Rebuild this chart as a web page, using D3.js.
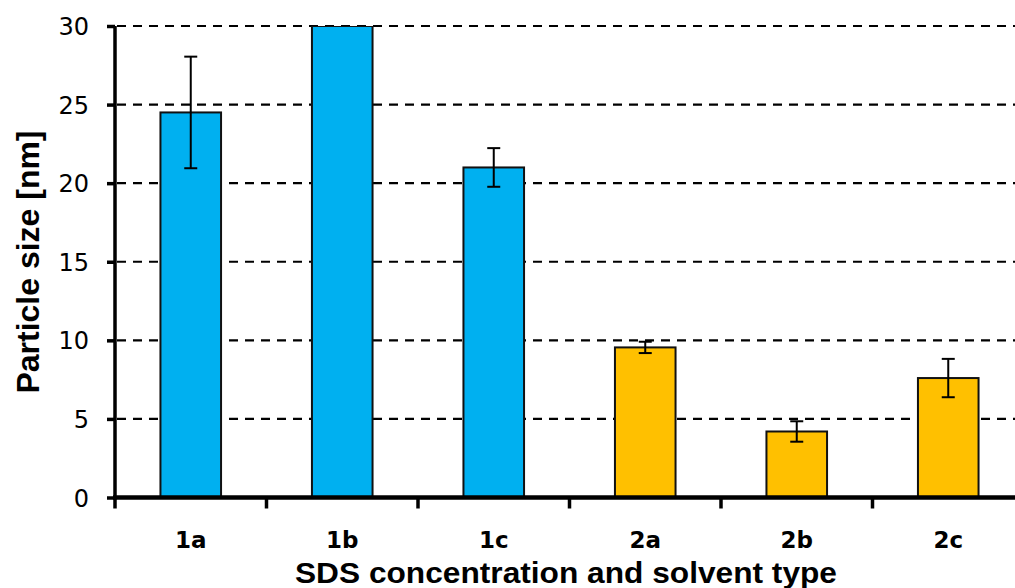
<!DOCTYPE html>
<html><head><meta charset="utf-8">
<script src="https://cdn.jsdelivr.net/npm/d3@7"></script>
<style>body{margin:0;background:#fff;overflow:hidden}</style>
</head><body>
<svg id="c" width="1015" height="588"></svg>
<script>
const categories = ["1a","1b","1c","2a","2b","2c"];
const values = [24.5, 30, 21.0, 9.55, 4.2, 7.6];
const errors = [3.55, null, 1.23, 0.36, 0.65, 1.22];
const groupOf = [1,1,1,2,2,2];
const yTicks = [0,5,10,15,20,25,30];
const colors = {1:"#00B0F0", 2:"#FFC000"};

const svg = d3.select("#c");
const x = d3.scaleBand().domain(categories).range([115, 1024]).paddingInner(0.6).paddingOuter(0.3);
const y = d3.scaleLinear().domain([0,30]).range([497.5, 26]);

svg.append("defs").append("clipPath").attr("id","pc")
  .append("rect").attr("x",115).attr("y",y(30)).attr("width",920).attr("height",y(0)-y(30)+2);

// gridlines
svg.append("g").selectAll("line").data(yTicks.filter(d=>d>0)).join("line")
  .attr("x1",117).attr("x2",1015).attr("y1",d=>y(d)).attr("y2",d=>y(d))
  .attr("stroke","#000").attr("stroke-width",2.2).attr("stroke-dasharray","9,7");

// bars
const data = categories.map((c,i)=>({c, v:values[i], e:errors[i], g:groupOf[i]}));
const plot = svg.append("g").attr("clip-path","url(#pc)");
plot.selectAll("rect").data(data).join("rect")
  .attr("x",d=>x(d.c)).attr("width",x.bandwidth())
  .attr("y",d=>y(d.v)).attr("height",d=>y(0)-y(d.v))
  .attr("fill",d=>colors[d.g]).attr("stroke","#111").attr("stroke-width",2);

// error bars
const eb = svg.append("g").selectAll("g").data(data.filter(d=>d.e!=null)).join("g")
  .attr("stroke","#000").attr("stroke-width",2);
eb.append("line").attr("x1",d=>x(d.c)+x.bandwidth()/2).attr("x2",d=>x(d.c)+x.bandwidth()/2)
  .attr("y1",d=>y(d.v+d.e)).attr("y2",d=>y(d.v-d.e));
eb.append("line").attr("x1",d=>x(d.c)+x.bandwidth()/2-6.5).attr("x2",d=>x(d.c)+x.bandwidth()/2+6.5)
  .attr("y1",d=>y(d.v+d.e)).attr("y2",d=>y(d.v+d.e));
eb.append("line").attr("x1",d=>x(d.c)+x.bandwidth()/2-6.5).attr("x2",d=>x(d.c)+x.bandwidth()/2+6.5)
  .attr("y1",d=>y(d.v-d.e)).attr("y2",d=>y(d.v-d.e));

// y axis
const yAxis = d3.axisLeft(y).tickValues(yTicks).tickSize(8).tickPadding(18);
const gy = svg.append("g").attr("transform","translate(115,0)").call(yAxis);
gy.select(".domain").attr("stroke","#000").attr("stroke-width",3.5).attr("d",`M0,${y(30)}V${y(0)+2}`);
gy.selectAll(".tick line").attr("stroke","#000").attr("stroke-width",3.5);
gy.selectAll(".tick text").attr("font-family","DejaVu Sans").attr("font-size",24).attr("fill","#000").attr("dy","0.36em");

// x axis
const step = x.step();
const bounds = d3.range(0, categories.length+1).map(i=>115+i*step);
svg.append("line").attr("x1",113).attr("x2",1015).attr("y1",y(0)).attr("y2",y(0))
  .attr("stroke","#000").attr("stroke-width",4.5);
svg.append("g").selectAll("line").data(bounds).join("line")
  .attr("x1",d=>d).attr("x2",d=>d).attr("y1",y(0)).attr("y2",y(0)+11)
  .attr("stroke","#000").attr("stroke-width",3.5);
svg.append("g").selectAll("text").data(categories).join("text")
  .attr("x",d=>x(d)+x.bandwidth()/2).attr("y",548).attr("text-anchor","middle")
  .attr("font-family","DejaVu Sans").attr("font-weight","bold").attr("font-size",23).text(d=>d);

// titles
svg.append("text").attr("x",566).attr("y",583).attr("text-anchor","middle")
  .attr("font-family","Liberation Sans, Arial").attr("font-weight","bold").attr("font-size",29)
  .attr("textLength",542).attr("lengthAdjust","spacingAndGlyphs")
  .text("SDS concentration and solvent type");
svg.append("text").attr("transform","translate(39,262) rotate(-90)").attr("text-anchor","middle")
  .attr("font-family","Liberation Sans, Arial").attr("font-weight","bold").attr("font-size",32)
  .attr("textLength",263).attr("lengthAdjust","spacingAndGlyphs")
  .text("Particle size [nm]");
</script>
</body></html>
